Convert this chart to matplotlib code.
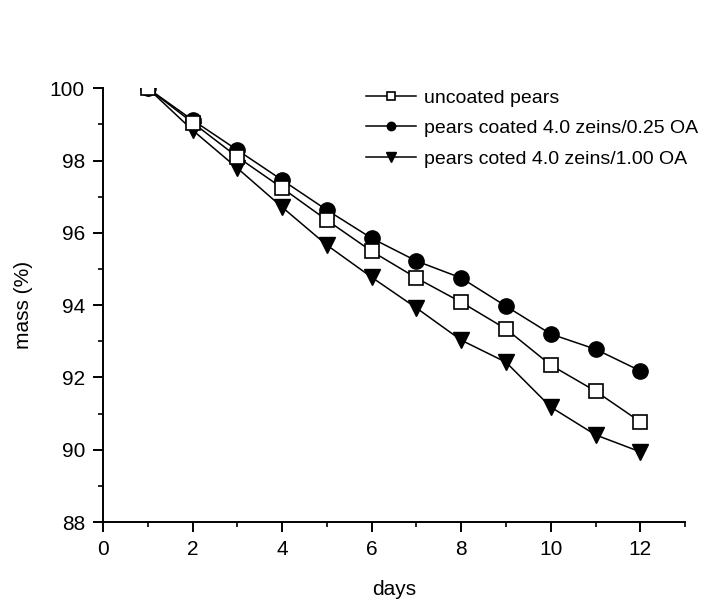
import matplotlib
matplotlib.use("Agg")
import matplotlib.pyplot as plt
import matplotlib.ticker as mticker

plt.rcParams["font.family"] = ["Liberation Sans", "DejaVu Sans"]

# ── Data ──────────────────────────────────────────────────────────────────────
days = [1, 2, 3, 4, 5, 6, 7, 8, 9, 10, 11, 12]
uncoated = [100.0, 99.05, 98.1, 97.24, 96.35, 95.49, 94.75, 94.08, 93.34, 92.34, 91.62, 90.77]
coated_025 = [100.0, 99.12, 98.29, 97.46, 96.63, 95.85, 95.22, 94.75, 93.97, 93.2, 92.78, 92.18]
coated_100 = [100.0, 98.84, 97.79, 96.71, 95.66, 94.77, 93.92, 93.03, 92.42, 91.18, 90.41, 89.94]

labels = [
    "uncoated pears",
    "pears coated 4.0 zeins/0.25 OA",
    "pears coted 4.0 zeins/1.00 OA",
]

# ── Plot ──────────────────────────────────────────────────────────────────────
fig = plt.figure(figsize=(7.25, 6.0), dpi=100)
ax = fig.add_axes([0.142, 0.13, 0.803, 0.723])

ax.plot(days, uncoated, color="black", lw=1.1, marker="s", ms=10,
        mfc="white", mec="black", mew=1.2, label=labels[0], zorder=3)
ax.plot(days, coated_025, color="black", lw=1.1, marker="o", ms=11,
        mfc="black", mec="black", label=labels[1], zorder=2)
ax.plot(days, coated_100, color="black", lw=1.1, marker="v", ms=12,
        mfc="black", mec="black", label=labels[2], zorder=1)

ax.set_xlim(0, 13)
ax.set_ylim(88, 100)
ax.xaxis.set_major_locator(mticker.MultipleLocator(2))
ax.xaxis.set_minor_locator(mticker.MultipleLocator(1))
ax.yaxis.set_major_locator(mticker.MultipleLocator(2))
ax.yaxis.set_minor_locator(mticker.MultipleLocator(1))

ax.spines[["top", "right"]].set_visible(False)
for sp in ("left", "bottom"):
    ax.spines[sp].set_linewidth(1.4)

ax.tick_params(which="major", direction="out", length=7, width=1.4,
               labelsize=15, pad=6)
ax.tick_params(which="minor", direction="out", length=3.5, width=1.2)

ax.set_xlabel("days", fontsize=15, labelpad=15)
ax.set_ylabel("mass (%)", fontsize=15, labelpad=12)

leg = ax.legend(loc="upper left", bbox_to_anchor=(0.438, 1.016), frameon=False,
                fontsize=14, markerscale=0.55, handlelength=2.6,
                handletextpad=0.4, labelspacing=0.66, borderaxespad=0)

fig.savefig("out.png", dpi=100)
